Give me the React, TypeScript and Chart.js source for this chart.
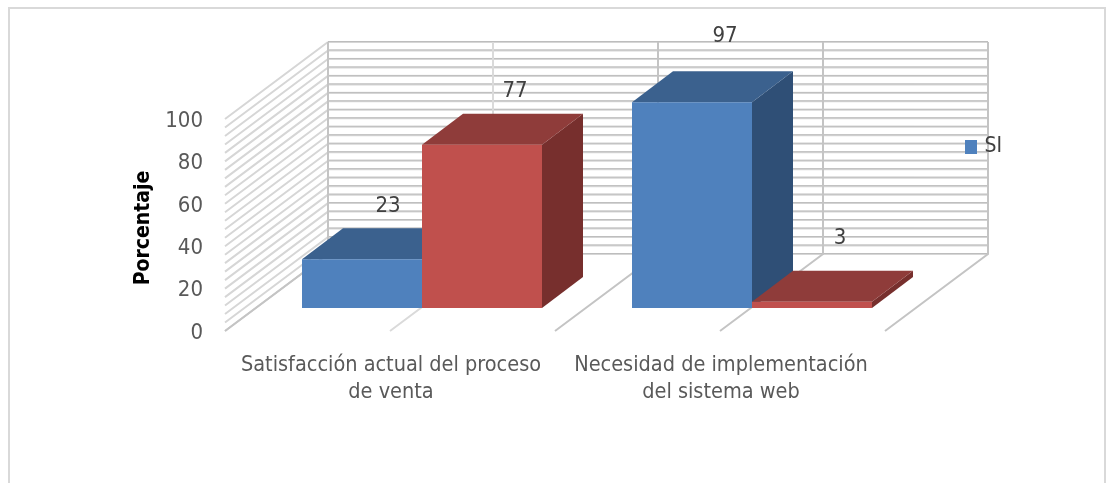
import React, { useEffect, useRef } from "react";
import { Chart, registerables } from "chart.js";

Chart.register(...registerables);

// Survey results, in percent
const categories = [
  ["Satisfacción actual del proceso", "de venta"],
  ["Necesidad de implementación", "del sistema web"],
];
const siValues = [23, 97];
const noValues = [77, 3];
const yTickLabels = [0, 20, 40, 60, 80, 100];

const TEXT_FONT = '"DejaVu Sans Condensed", "DejaVu Sans", sans-serif';

const COLORS = {
  si: { front: "#4F81BD", top: "#3B618E", side: "#2F4F76" },
  no: { front: "#C0504D", top: "#8F3C3A", side: "#772F2D" },
};

// Oblique projection offsets: bar depth, and the whole room behind the bars
const BAR_DEPTH = { dx: 41, dy: -31 };
const ROOM_DEPTH = { dx: 103, dy: -77 };
const FLOOR_SHIFT = { dx: -32, dy: 23 };
// Hand placement of each value label relative to its bar's front-top centre
const LABEL_SHIFT = [
  [[26, -53], [33, -66]],
  [[33, -53], [28, -63]],
];

function polygon(ctx: CanvasRenderingContext2D, pts: number[][], fill: string) {
  ctx.beginPath();
  pts.forEach(([x, y], i) => (i ? ctx.lineTo(x, y) : ctx.moveTo(x, y)));
  ctx.closePath();
  ctx.fillStyle = fill;
  ctx.fill();
}

// Outer frame of the chart object
const framePlugin = {
  id: "frame",
  beforeDraw(chart: any) {
    const { ctx } = chart;
    ctx.save();
    ctx.strokeStyle = "#D9D9D9";
    ctx.lineWidth = 2;
    ctx.strokeRect(9, 8, 1096, 500);
    ctx.restore();
  },
};

// Back wall, side wall and floor lines of the 3D room
const roomPlugin = {
  id: "room",
  beforeDraw(chart: any) {
    const { ctx, scales, chartArea } = chart;
    const y = scales.y;
    const x0 = chartArea.left + FLOOR_SHIFT.dx;
    const fx = x0 + ROOM_DEPTH.dx;
    const step = chartArea.width / 4;
    const wallRight = fx + step * 4;
    ctx.save();
    ctx.lineCap = "butt";

    y.ticks.forEach((t: any) => {
      const py = y.getPixelForValue(t.value) + FLOOR_SHIFT.dy;
      const by = py + ROOM_DEPTH.dy;
      ctx.strokeStyle = "#D6D6D6";
      ctx.lineWidth = 2;
      ctx.beginPath();
      ctx.moveTo(fx, by);
      ctx.lineTo(wallRight, by);
      ctx.moveTo(x0, py);
      ctx.lineTo(fx, by);
      ctx.stroke();
      ctx.strokeStyle = "#BDBDBD";
      ctx.lineWidth = 1;
      ctx.beginPath();
      ctx.moveTo(fx, by - 0.5);
      ctx.lineTo(wallRight, by - 0.5);
      ctx.stroke();
    });

    const base = y.getPixelForValue(0) + FLOOR_SHIFT.dy;
    const top = y.getPixelForValue(100) + FLOOR_SHIFT.dy + ROOM_DEPTH.dy;
    for (let k = 0; k <= 4; k++) {
      ctx.strokeStyle = k === 1 ? "#DADADA" : "#C4C4C4";
      ctx.lineWidth = 2;
      ctx.beginPath();
      ctx.moveTo(fx + step * k, top);
      ctx.lineTo(fx + step * k, base + ROOM_DEPTH.dy);
      ctx.lineTo(x0 + step * k, base);
      ctx.stroke();
    }
    ctx.restore();
  },
};

// Top and side faces of the bars; the front faces are the library's own bars
const barFacesPlugin = {
  id: "barFaces",
  beforeDatasetsDraw(chart: any) {
    const { ctx } = chart;
    const { dx, dy } = BAR_DEPTH;
    ctx.save();
    [0, 1].forEach((ds) => {
      const palette = ds === 0 ? COLORS.si : COLORS.no;
      chart.getDatasetMeta(ds).data.forEach((bar: any) => {
        const { x, y, base, width } = bar.getProps(["x", "y", "base", "width"], true);
        const l = x - width / 2;
        const r = x + width / 2;
        polygon(ctx, [[r, y], [r + dx, y + dy], [r + dx, base + dy], [r, base]], palette.side);
        polygon(ctx, [[l, y], [l + dx, y + dy], [r + dx, y + dy], [r, y]], palette.top);
      });
    });
    ctx.restore();
  },
  afterDatasetsDraw(chart: any) {
    const { ctx } = chart;
    ctx.save();
    ctx.font = `22px ${TEXT_FONT}`;
    ctx.fillStyle = "#404040";
    ctx.textAlign = "center";
    ctx.textBaseline = "middle";
    [0, 1].forEach((ds) => {
      chart.getDatasetMeta(ds).data.forEach((bar: any, i: number) => {
        const [sx, sy] = LABEL_SHIFT[ds][i];
        ctx.fillText(String(chart.data.datasets[ds].data[i]), bar.x + sx, bar.y + sy);
      });
    });
    // Axis title sits on the slanted front plane, lower than the plot centre
    ctx.font = `bold 21px ${TEXT_FONT}`;
    ctx.fillStyle = "#000000";
    ctx.translate(144, 228);
    ctx.rotate(-Math.PI / 2);
    ctx.fillText("Porcentaje", 0, 0);
    ctx.restore();
  },
};

// The legend floats over the back wall instead of taking layout space
const legendPlacement = {
  id: "legendPlacement",
  afterLayout(chart: any) {
    const legend = chart.legend;
    const w = legend.width;
    const h = legend.height;
    legend.left = 965;
    legend.right = 965 + w;
    legend.top = 136;
    legend.bottom = 136 + h;
  },
};

function legendSwatch(color: string) {
  const c = document.createElement("canvas");
  c.width = 14;
  c.height = 14;
  const g = c.getContext("2d")!;
  g.fillStyle = color;
  g.fillRect(0, 0, 14, 14);
  return c;
}

export default function App() {
  const ref = useRef<HTMLCanvasElement>(null);

  useEffect(() => {
    document.body.style.margin = "0";
    const swatch = legendSwatch(COLORS.si.front);
    const chart = new Chart(ref.current!, {
      type: "bar",
      data: {
        labels: categories,
        datasets: [
          { label: "SI", data: siValues, backgroundColor: COLORS.si.front },
          { label: "NO", data: noValues, backgroundColor: COLORS.no.front },
        ],
      },
      plugins: [framePlugin, roomPlugin, barFacesPlugin, legendPlacement],
      options: {
        animation: false,
        responsive: false,
        layout: { padding: { left: 0, top: 96, right: 195, bottom: 0 } },
        datasets: { bar: { categoryPercentage: 240 / 330, barPercentage: 1 } },
        scales: {
          x: {
            grid: { display: false },
            border: { display: false },
            ticks: {
              autoSkip: false,
              maxRotation: 0,
              minRotation: 0,
              padding: 36,
              labelOffset: -31,
              color: "#595959",
              font: { family: TEXT_FONT, size: 21.5, lineHeight: 1.25 },
            },
            afterFit(scale: any) {
              scale.height = 483 - 308;
            },
          },
          y: {
            min: 0,
            max: 100,
            grid: { display: false },
            border: { display: false },
            ticks: {
              stepSize: 4,
              autoSkip: false,
              padding: 46,
              labelOffset: 25,
              color: "#595959",
              font: { family: TEXT_FONT, size: 22 },
              callback: (v: any) => (yTickLabels.includes(v) ? String(v) : ""),
            },
            afterFit(scale: any) {
              scale.width = 257;
            },
          },
        },
        plugins: {
          tooltip: { enabled: false },
          legend: {
            position: "chartArea",
            align: "start",
            labels: {
              usePointStyle: true,
              boxWidth: 9,
              boxHeight: 14,
              padding: 0,
              font: { family: TEXT_FONT, size: 21 },
              generateLabels: (c: any) => [
                {
                  text: c.data.datasets[0].label,
                  fontColor: "#404040",
                  fillStyle: COLORS.si.front,
                  strokeStyle: COLORS.si.front,
                  lineWidth: 0,
                  pointStyle: swatch,
                  datasetIndex: 0,
                },
              ],
            },
          },
        },
      } as any,
    });
    return () => chart.destroy();
  }, []);

  return <canvas ref={ref} width={1112} height={483} style={{ display: "block" }} />;
}
